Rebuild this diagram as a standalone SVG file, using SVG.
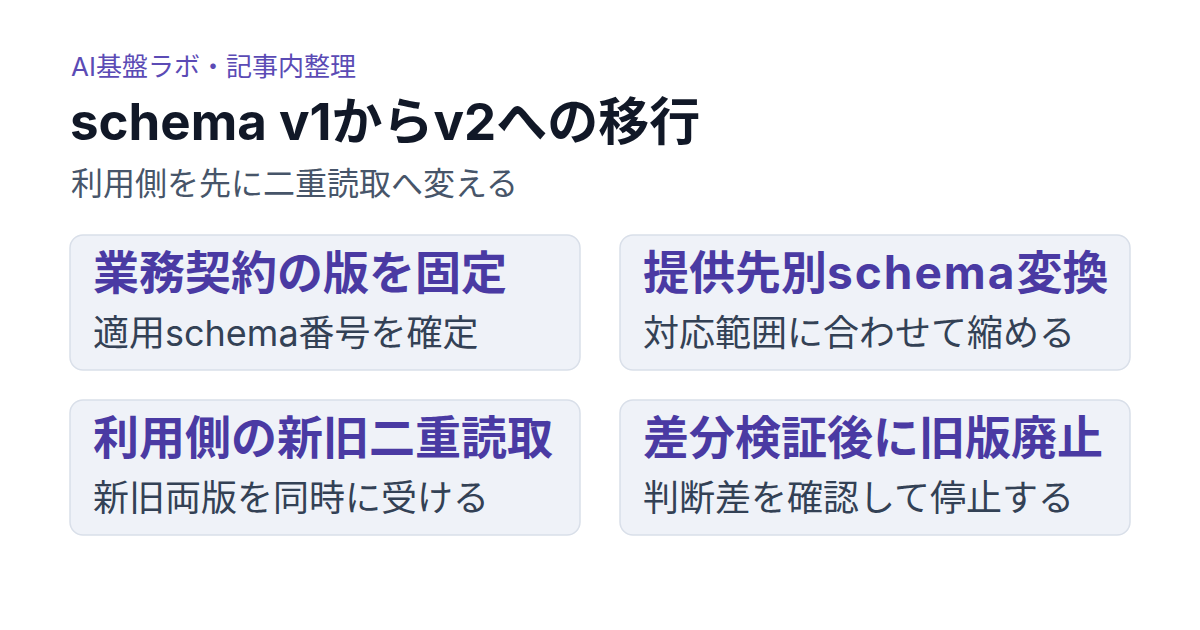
<svg xmlns="http://www.w3.org/2000/svg" width="1200" height="630" viewBox="0 0 1200 630">
<style>
text{font-family:Inter,"Noto Sans CJK JP",sans-serif}
.eyebrow{font-size:26px;fill:#5b4bb5}
.title{font-size:51px;font-weight:700;fill:#111827}
.sub{font-size:32px;fill:#475569}
.card{fill:#eff2f8;stroke:#d9dfe9;stroke-width:1.5}
.ct{font-size:46px;font-weight:700;fill:#4a3aa3}
.cs{font-size:36px;fill:#334155}
.wide{letter-spacing:2px}
</style>
<rect width="1200" height="630" fill="#ffffff"/>
<g id="header">
<text class="eyebrow" x="71" y="76">AI基盤ラボ・記事内整理</text>
<text class="title" x="70" y="140">schema v1からv2への移行</text>
<text class="sub" x="71" y="195">利用側を先に二重読取へ変える</text>
</g>
<g id="card1">
<rect class="card" x="70" y="235" width="510" height="135" rx="13"/>
<text class="ct" x="93" y="289">業務契約の版を固定</text>
<text class="cs" x="93" y="346">適用schema番号を確定</text>
</g>
<g id="card2">
<rect class="card" x="620" y="235" width="510" height="135" rx="13"/>
<text class="ct" x="643" y="289">提供先別<tspan class="wide">schema</tspan>変換</text>
<text class="cs" x="643" y="346">対応範囲に合わせて縮める</text>
</g>
<g id="card3">
<rect class="card" x="70" y="400" width="510" height="135" rx="13"/>
<text class="ct" x="93" y="454">利用側の新旧二重読取</text>
<text class="cs" x="93" y="511">新旧両版を同時に受ける</text>
</g>
<g id="card4">
<rect class="card" x="620" y="400" width="510" height="135" rx="13"/>
<text class="ct" x="643" y="454">差分検証後に旧版廃止</text>
<text class="cs" x="643" y="511">判断差を確認して停止する</text>
</g>
<g id="connectors"></g>
</svg>
